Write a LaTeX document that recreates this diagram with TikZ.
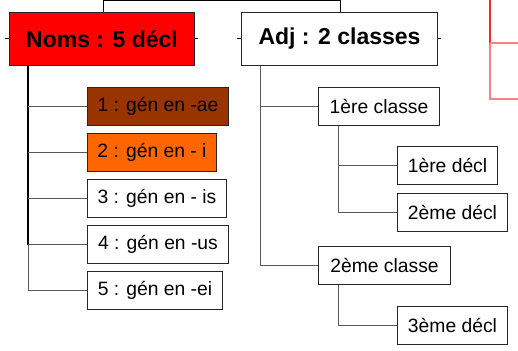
\documentclass[tikz,border=0pt]{standalone}
\usepackage{fontspec}
\setmainfont{Liberation Sans}
\begin{document}
\begin{tikzpicture}[x=1pt,y=-1pt,
  box/.style={draw=black!85,line width=1pt,anchor=north west,inner sep=0pt,
    minimum height=38pt,font=\fontsize{19.3}{22}\selectfont},
  head/.style={draw=black!85,line width=1pt,anchor=north west,inner sep=0pt,
    minimum height=53pt,font=\fontsize{23}{27}\selectfont\bfseries},
  conn/.style={draw=black!65,line width=1pt},
  trunk/.style={draw=black,line width=1.5pt},
  redA/.style={draw=red!85,line width=1.3pt},
  redB/.style={draw=red!50,line width=1.3pt}]
\useasboundingbox (0,0) rectangle (518,350);
% header boxes
\node[head,fill=red,minimum width=185pt] (noms) at (9,12) {Noms : 5 décl};
\node[head,fill=white,minimum width=196pt] (adj) at (241,12) {Adj : 2 classes};
% noun boxes
\node[box,fill={rgb,255:red,153;green,51;blue,0},minimum width=141pt] (n1) at (87,87) {1 : gén en -ae};
\node[box,fill={rgb,255:red,255;green,102;blue,0},minimum width=129pt] (n2) at (87,133) {2 : gén en - i};
\node[box,minimum width=139pt] (n3) at (87,179) {3 : gén en - is};
\node[box,minimum width=141pt] (n4) at (87,225) {4 : gén en -us};
\node[box,minimum width=135pt] (n5) at (87,271) {5 : gén en -ei};
% adjective boxes
\node[box,minimum width=121pt] (c1) at (318,87) {1ère classe};
\node[box,minimum width=132pt] (c2) at (318,246) {2ème classe};
\node[box,minimum width=100pt] (d1) at (397,146) {1ère décl};
\node[box,minimum width=110pt] (d2) at (397,193) {2ème décl};
\node[box,minimum width=110pt] (d3) at (397,306) {3ème décl};
% bus coordinates
\coordinate (nb) at (28,0);
\coordinate (ab) at (260,0);
\coordinate (cb) at (338,0);
\coordinate (topL) at (103,1);
\coordinate (topR) at (340,1);
% top connector
\draw[conn,draw=black] (topL |- noms.north) -- (topL) -- (topR) -- (topR |- adj.north);
% ticks
\draw[conn,draw=black] (noms.west) -- ++(-4,0);
\draw[conn,draw=black] (noms.east) -- ++(3,0);
\draw[conn,draw=black] (adj.west) -- ++(-4,0);
\draw[conn,draw=black] (adj.east) -- ++(3,0);
% noms tree
\draw[trunk] (nb |- noms.south) -- (nb |- n4);
\draw[conn] (nb |- n4) -- (nb |- n5);
\foreach \n in {n1,n2,n3,n4,n5} \draw[conn] (nb |- \n) -- (\n.west);
% adj tree
\draw[conn] (ab |- adj.south) -- (ab |- c2) -- (c2.west);
\draw[conn] (ab |- c1) -- (c1.west);
\draw[conn] (cb |- c1.south) -- (cb |- d2) -- (d2.west);
\draw[conn] (cb |- d1) -- (d1.west);
\draw[conn] (cb |- c2.south) -- (cb |- d3) -- (d3.west);
% red lines at right
\coordinate (r0) at (490,0);
\coordinate (r1) at (490,43);
\coordinate (r2) at (490,99);
\coordinate (e1) at (518,43);
\coordinate (e2) at (518,99);
\draw[redA] (r0) -- (r1);
\draw[redB] (r1) -- (r2) -- (e2);
\draw[redB] (r1) -- (e1);
\end{tikzpicture}
\end{document}
